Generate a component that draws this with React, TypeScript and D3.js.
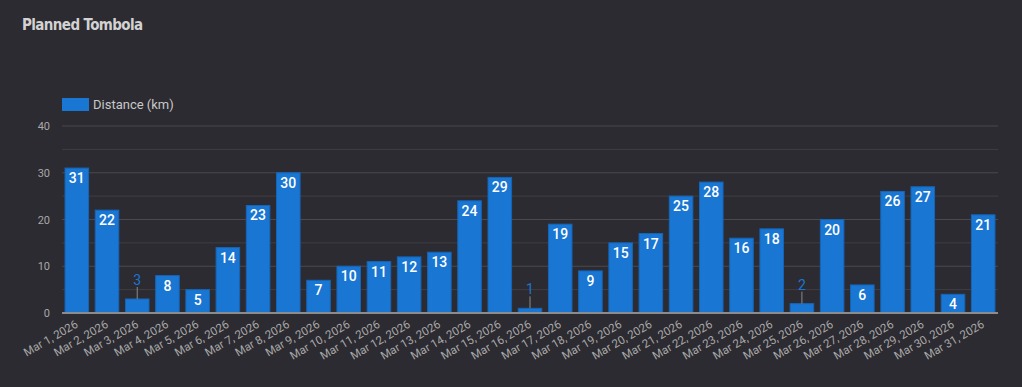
import React from 'react';
import * as d3 from 'd3';

const days = d3.range(1, 32).map((d) => `Mar ${d}, 2026`);
const distance = [31, 22, 3, 8, 5, 14, 23, 30, 7, 10, 11, 12, 13, 24, 29, 1, 19, 9, 15, 17, 25, 28, 16, 18, 2, 20, 6, 26, 27, 4, 21];
const yTicks = [0, 10, 20, 30, 40];
const minorTicks = [5, 15, 25, 35];

const W = 1022;
const H = 387;
const margin = { top: 126, right: 24, bottom: 74, left: 62 };

const App: React.FC = () => {
  const x = d3
    .scaleBand()
    .domain(days)
    .range([margin.left, W - margin.right])
    .paddingInner(0.22)
    .paddingOuter(0.1);

  const y = d3
    .scaleLinear()
    .domain([0, 40])
    .range([H - margin.bottom, margin.top]);

  const blue = '#1976d2';

  return (
    <svg width={W} height={H} style={{ position: 'absolute', left: 0, top: 0, background: '#2c2b31' }}>
      <rect width={W} height={H} fill="#2c2b31" />
      <text
        x={22}
        y={30}
        fill="#d2d2d2"
        fontFamily="'DejaVu Sans Condensed', 'DejaVu Sans', sans-serif"
        fontWeight="bold"
        fontSize={15}
        letterSpacing={-0.6}
      >
        Planned Tombola
      </text>

      {/* legend */}
      <rect x={62} y={98} width={27} height={13} fill={blue} />
      <text x={93} y={109} fill="#c8c8c8" fontFamily="Roboto, sans-serif" fontSize={13}>
        Distance (km)
      </text>

      {/* grid */}
      {minorTicks.map((t) => (
        <line key={'m' + t} x1={margin.left} x2={W - margin.right} y1={y(t)} y2={y(t)} stroke="#3f3e44" strokeWidth={1} />
      ))}
      {yTicks.map((t) => (
        <g key={t}>
          {t > 0 && <line x1={margin.left} x2={W - margin.right} y1={y(t)} y2={y(t)} stroke="#4a494f" strokeWidth={1} />}
          <text x={50} y={y(t) + 4} textAnchor="end" fill="#a8a8a8" fontFamily="Roboto, sans-serif" fontSize={11}>
            {t}
          </text>
        </g>
      ))}

      {/* bars */}
      {distance.map((v, i) => {
        const bx = x(days[i]) || 0;
        const bw = x.bandwidth();
        const top = y(v);
        const small = v < 4;
        return (
          <g key={i}>
            <rect x={bx} y={top} width={bw} height={y(0) - top} fill={blue} stroke="#1565b8" strokeWidth={1} />
            {small ? (
              <>
                <line x1={bx + bw / 2} x2={bx + bw / 2} y1={top} y2={top - 12} stroke="#8a8a8a" strokeWidth={1} />
                <text
                  x={bx + bw / 2}
                  y={top - 14}
                  textAnchor="middle"
                  fill={blue}
                  fontFamily="Roboto, sans-serif"
                  fontSize={14}
                >
                  {v}
                </text>
              </>
            ) : (
              <text
                x={bx + bw / 2}
                y={top + 15}
                textAnchor="middle"
                fill="#ffffff"
                fontFamily="Roboto, sans-serif"
                fontWeight={500}
                fontSize={14}
              >
                {v}
              </text>
            )}
          </g>
        );
      })}

      {/* baseline */}
      <line x1={margin.left} x2={W - margin.right} y1={y(0)} y2={y(0)} stroke="#8c8c8c" strokeWidth={2} />

      {/* x labels */}
      {days.map((d) => {
        const cx = (x(d) || 0) + x.bandwidth() / 2;
        return (
          <text
            key={d}
            transform={`translate(${cx},${y(0) + 10}) rotate(-30)`}
            textAnchor="end"
            fill="#a8a8a8"
            fontFamily="Roboto, sans-serif"
            fontSize={11.5}
            dy="0.35em"
          >
            {d}
          </text>
        );
      })}
    </svg>
  );
};

export default App;
